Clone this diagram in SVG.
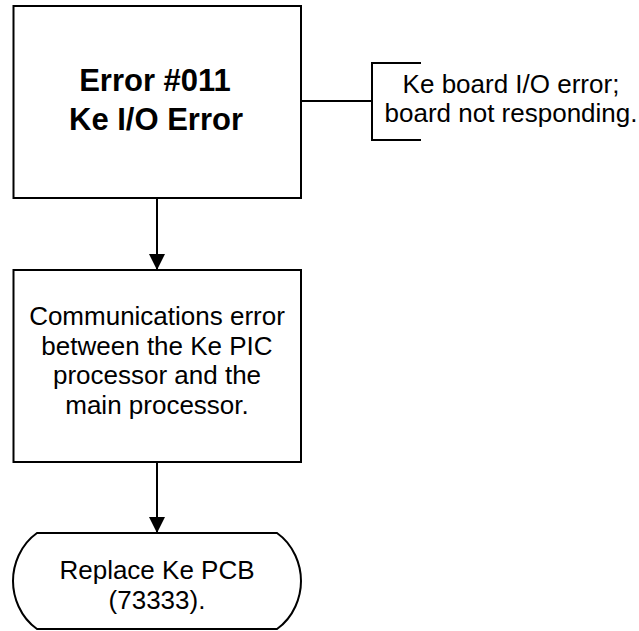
<svg xmlns="http://www.w3.org/2000/svg" width="639" height="631" viewBox="0 0 639 631">
<style>
.shape{fill:#fff;stroke:#000;stroke-width:2}
.line{fill:none;stroke:#000;stroke-width:2}
.t{font-family:"Liberation Sans",Arial,sans-serif;font-size:26px;fill:#000;text-anchor:middle}
.b{font-weight:bold;font-size:31px}
</style>
<defs>
<marker id="arr" markerUnits="userSpaceOnUse" markerWidth="18" markerHeight="16" refX="16" refY="8" orient="auto">
<path d="M0,0 L16,8 L0,16 Z" fill="#000"/>
</marker>
</defs>
<rect width="639" height="631" fill="#fff"/>
<g id="connectors">
<path class="line" d="M157,198 V270" marker-end="url(#arr)"/>
<path class="line" d="M157,462 V533" marker-end="url(#arr)"/>
<path class="line" d="M301,101 H372"/>
</g>
<g id="n1">
<rect class="shape" x="13.5" y="6" width="287.5" height="192"/>
<text class="t b" x="155" y="91">Error #011</text>
<text class="t b" x="156" y="130">Ke I/O Error</text>
</g>
<g id="note">
<path class="line" d="M421,63 H372 V140 H421"/>
<text class="t" x="511" y="93">Ke board I/O error;</text>
<text class="t" x="511" y="122">board not responding.</text>
</g>
<g id="n2">
<rect class="shape" x="13.5" y="270" width="287.5" height="192"/>
<text class="t" x="157" y="325">Communications error</text>
<text class="t" x="157" y="355">between the Ke PIC</text>
<text class="t" x="157" y="384">processor and the</text>
<text class="t" x="157" y="414">main processor.</text>
</g>
<g id="n3">
<path class="shape" d="M37,533 H277 C294,545 301,565 301,581 C301,597 294,617 277,629 H37 C20,617 13,597 13,581 C13,565 20,545 37,533 Z"/>
<text class="t" x="157" y="579">Replace Ke PCB</text>
<text class="t" x="157" y="609">(73333).</text>
</g>
</svg>
